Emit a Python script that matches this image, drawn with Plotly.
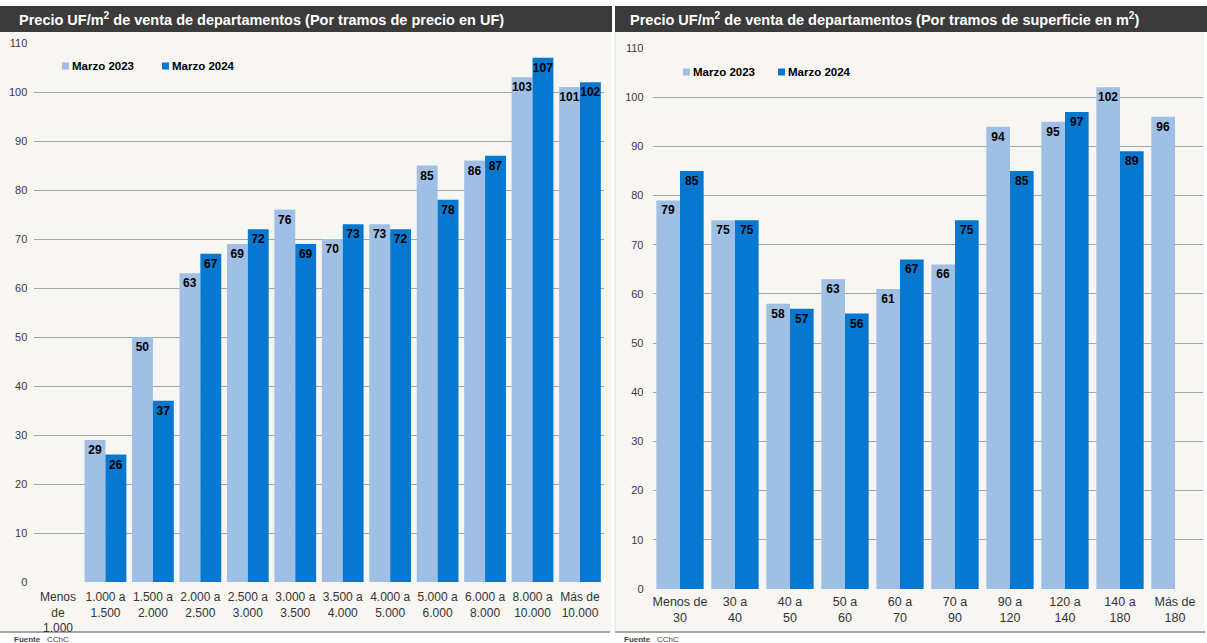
import plotly.graph_objects as go

# --- Data -----------------------------------------------------------------
price_bands = ["Menos<br>de<br>1.000", "1.000 a<br>1.500", "1.500 a<br>2.000", "2.000 a<br>2.500",
               "2.500 a<br>3.000", "3.000 a<br>3.500", "3.500 a<br>4.000", "4.000 a<br>5.000",
               "5.000 a<br>6.000", "6.000 a<br>8.000", "8.000 a<br>10.000", "Más de<br>10.000"]
price_2023 = [None, 29, 50, 63, 69, 76, 70, 73, 85, 86, 103, 101]
price_2024 = [None, 26, 37, 67, 72, 69, 73, 72, 78, 87, 107, 102]

area_bands = ["Menos de<br>30", "30 a<br>40", "40 a<br>50", "50 a<br>60", "60 a<br>70",
              "70 a<br>90", "90 a<br>120", "120 a<br>140", "140 a<br>180", "Más de<br>180"]
area_2023 = [79, 75, 58, 63, 61, 66, 94, 95, 102, 96]
area_2024 = [85, 75, 57, 56, 67, 75, 85, 97, 89, None]

series_names = ["Marzo 2023", "Marzo 2024"]
y_ticks = list(range(0, 111, 10))

# --- Styling --------------------------------------------------------------
W, H = 1207, 643
LIGHT = "#a0bfe5"
DARK = "#0778cf"
SERIES_COLORS = [LIGHT, DARK]
PANEL_BG = "#f7f6f2"
BAR_DARK = "#3b3b3b"
FONT = "Liberation Sans, Arial, sans-serif"


def px_x(v):
    return v / W


def px_y(v):
    return 1 - v / H


def labels(vals):
    return ["" if v is None else f"{v:.0f}" for v in vals]


fig = go.Figure()

panels = [
    dict(x=price_bands, a=price_2023, b=price_2024, xa="x", ya="y", w=0.44),
    dict(x=area_bands, a=area_2023, b=area_2024, xa="x2", ya="y2", w=0.43),
]

for p in panels:
    for name, vals, color, off in [(series_names[0], p["a"], LIGHT, -p["w"]),
                                   (series_names[1], p["b"], DARK, 0.0)]:
        fig.add_trace(go.Bar(
            x=p["x"], y=vals, name=name, xaxis=p["xa"], yaxis=p["ya"],
            showlegend=False, marker=dict(color=color, line=dict(width=0)),
            width=p["w"], offset=off,
            text=labels(vals), textposition="inside", insidetextanchor="end",
            textangle=0,
            textfont=dict(family=FONT, size=12, color="#000000", weight="bold"),
            cliponaxis=False, hoverinfo="x+y+name",
        ))

axis_common = dict(
    showline=False, zeroline=False, ticks="", automargin=False,
    tickfont=dict(family=FONT, size=11, color="#3a3a3a"),
)
xaxis_common = dict(showgrid=False, ticks="", showline=False, zeroline=False, automargin=False)

fig.update_layout(
    template="none",
    width=W, height=H,
    margin=dict(l=0, r=0, t=0, b=0, pad=0, autoexpand=False),
    paper_bgcolor="#ffffff",
    plot_bgcolor="rgba(0,0,0,0)",
    barmode="overlay",
    showlegend=False,
    uniformtext=dict(minsize=12, mode="show"),
    xaxis=dict(domain=[px_x(34.3), px_x(603.7)], anchor="y", ticklabelstandoff=6,
               tickfont=dict(family=FONT, size=12, color="#333333"), **xaxis_common),
    yaxis=dict(domain=[px_y(582), px_y(43)], anchor="x", range=[0, 110],
               tickvals=y_ticks, showgrid=True, gridcolor="#a6a6a6", gridwidth=1,
               ticklabelstandoff=6, **axis_common),
    xaxis2=dict(domain=[px_x(652.5), px_x(1202.5)], anchor="y2", ticklabelstandoff=3,
                tickfont=dict(family=FONT, size=12.5, color="#333333"), **xaxis_common),
    yaxis2=dict(domain=[px_y(589), px_y(48)], anchor="x2", range=[0, 110],
                tickvals=y_ticks, showgrid=True, gridcolor="#a6a6a6", gridwidth=1,
                ticklabelstandoff=8, **axis_common),
    font=dict(family=FONT),
)

# Panel backgrounds, title bars and bottom rules
shapes = []
for x0, x1, tx1 in [(0, 612, 612), (615, 1204, 1207)]:
    shapes.append(dict(type="rect", xref="paper", yref="paper", layer="below",
                       x0=px_x(x0), x1=px_x(x1), y0=px_y(632), y1=px_y(32),
                       fillcolor=PANEL_BG, line=dict(width=0)))
    shapes.append(dict(type="rect", xref="paper", yref="paper", layer="below",
                       x0=px_x(x0), x1=px_x(tx1), y0=px_y(32), y1=px_y(6),
                       fillcolor=BAR_DARK, line=dict(width=0)))
    shapes.append(dict(type="line", xref="paper", yref="paper", layer="below",
                       x0=px_x(x0), x1=px_x(tx1 - 2), y0=px_y(632), y1=px_y(632),
                       line=dict(color="#8a8a8a", width=1.5)))
shapes.append(dict(type="line", xref="paper", yref="paper", layer="below",
                   x0=px_x(615), x1=px_x(615), y0=px_y(632), y1=px_y(32),
                   line=dict(color="#d9d9d9", width=1)))

annotations = [
    dict(text="Precio UF/m<sup>2</sup> de venta de departamentos (Por tramos de precio en UF)",
         x=px_x(17), y=px_y(19)),
    dict(text="Precio UF/m<sup>2</sup> de venta de departamentos (Por tramos de superficie en m<sup>2</sup>)",
         x=px_x(628), y=px_y(19)),
]
for a in annotations:
    a.update(xref="paper", yref="paper", xanchor="left", yanchor="middle", showarrow=False,
             font=dict(family=FONT, size=14.5, color="#ffffff", weight="bold"))

# Series keys: small square swatch followed by the series name
legend_rows = [(66, [62, 162]), (72, [683, 778])]
for ly, xs in legend_rows:
    for name, color, lx in zip(series_names, SERIES_COLORS, xs):
        shapes.append(dict(type="rect", xref="paper", yref="paper",
                           x0=px_x(lx), x1=px_x(lx + 7), y0=px_y(ly + 3.5), y1=px_y(ly - 3.5),
                           fillcolor=color, line=dict(width=0)))
        annotations.append(dict(text=name, x=px_x(lx + 8), y=px_y(ly), xref="paper", yref="paper",
                                xanchor="left", yanchor="middle", showarrow=False,
                                font=dict(family=FONT, size=11.5, color="#000000", weight="bold")))

for fx in (12, 622):
    annotations.append(dict(text="<b>Fuente</b>   CChC", x=px_x(fx), y=px_y(639),
                            xref="paper", yref="paper", xanchor="left", yanchor="middle",
                            showarrow=False, font=dict(family=FONT, size=8, color="#444444")))

fig.update_layout(shapes=shapes, annotations=annotations)

fig.write_html("out.html")
